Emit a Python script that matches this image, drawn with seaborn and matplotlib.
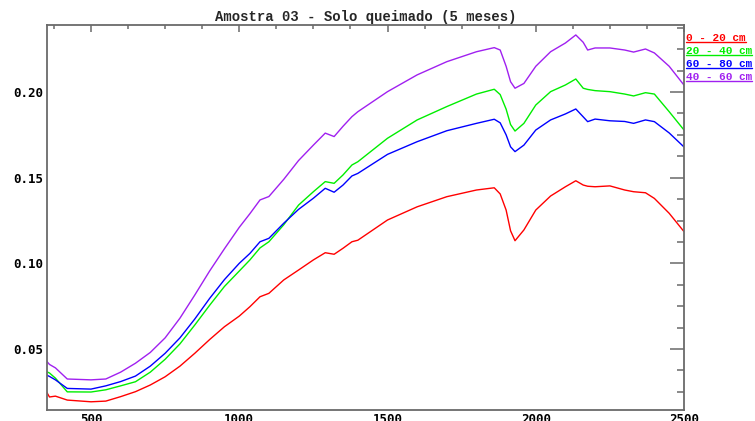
import numpy as np
import pandas as pd
import matplotlib
matplotlib.use('Agg')
import matplotlib.pyplot as plt
from matplotlib.lines import Line2D
from matplotlib.ticker import MultipleLocator, FormatStrFormatter
import seaborn as sns

# ==================== 数据 ====================
wavelength = [350, 360, 380, 420, 500, 550, 600, 650, 700, 750, 800, 850, 900, 950,
              1000, 1036, 1070, 1100, 1150, 1200, 1250, 1290, 1320, 1350, 1380, 1400,
              1500, 1600, 1700, 1800, 1860, 1880, 1900, 1915, 1930, 1960, 2000, 2050,
              2100, 2135, 2160, 2175, 2200, 2250, 2300, 2330, 2370, 2400, 2450, 2500]

prof_0_20 = [0.025, 0.022, 0.0225, 0.0202, 0.0192, 0.0196, 0.0222, 0.0251, 0.029,
             0.0338, 0.040, 0.0475, 0.0555, 0.063, 0.0692, 0.0747, 0.0805, 0.0825,
             0.0903, 0.0961, 0.102, 0.1062, 0.1053, 0.1088, 0.1126, 0.1135, 0.1253,
             0.133, 0.1389, 0.1428, 0.1441, 0.1405, 0.1311, 0.119, 0.1132, 0.1195,
             0.1311, 0.1393, 0.1447, 0.1482, 0.1457, 0.145, 0.1447, 0.1452, 0.1428,
             0.1418, 0.1412, 0.1379, 0.1292, 0.1185]

prof_20_40 = [0.0368, 0.036, 0.033, 0.025, 0.0249, 0.0262, 0.0285, 0.0309, 0.0365,
              0.044, 0.053, 0.064, 0.0755, 0.0865, 0.0955, 0.102, 0.109, 0.1126,
              0.1225, 0.134, 0.1418, 0.1477, 0.1467, 0.1516, 0.1574, 0.1593, 0.173,
              0.1837, 0.1915, 0.1988, 0.2016, 0.1985, 0.190, 0.181, 0.1772, 0.1817,
              0.1924, 0.2002, 0.2041, 0.2076, 0.2022, 0.2015, 0.2008, 0.2002, 0.1988,
              0.1977, 0.1996, 0.1988, 0.1885, 0.1778]

prof_60_80 = [0.0348, 0.034, 0.032, 0.027, 0.0266, 0.0285, 0.031, 0.0342, 0.040,
              0.0475, 0.0565, 0.0675, 0.0795, 0.0905, 0.100, 0.1058, 0.1126, 0.1146,
              0.1234, 0.1315, 0.138, 0.1438, 0.1415, 0.1457, 0.151, 0.1525, 0.1636,
              0.171, 0.1774, 0.1817, 0.1841, 0.182, 0.175, 0.168, 0.1652, 0.169,
              0.1778, 0.1837, 0.1872, 0.1901, 0.1855, 0.1827, 0.1842, 0.1832, 0.1828,
              0.1817, 0.1837, 0.1827, 0.1761, 0.1679]

prof_40_60 = [0.043, 0.041, 0.039, 0.0325, 0.032, 0.0325, 0.0365, 0.0417, 0.048,
              0.0565, 0.068, 0.0815, 0.0955, 0.1085, 0.121, 0.129, 0.137, 0.139,
              0.149, 0.160, 0.169, 0.176, 0.174, 0.180, 0.1856, 0.1885, 0.2002, 0.21,
              0.2177, 0.2235, 0.2259, 0.2245, 0.215, 0.206, 0.2022, 0.205, 0.215,
              0.2235, 0.2286, 0.2333, 0.229, 0.2245, 0.2257, 0.2257, 0.2245, 0.2233,
              0.2251, 0.2228, 0.215, 0.204]

labels = ['0 - 20 cm', '20 - 40 cm', '60 - 80 cm', '40 - 60 cm']
colors = ['#ff0000', '#00ee00', '#0000ff', '#a020f0']
series = [prof_0_20, prof_20_40, prof_60_80, prof_40_60]

df = pd.concat([
    pd.DataFrame({'wl': wavelength, 'refl': vals, 'prof': lab})
    for vals, lab in zip(series, labels)
])

# ==================== 绘图 ====================
sns.set_style('white')
plt.rcParams['font.family'] = ['DejaVu Sans Mono', 'DejaVu Sans']

fig = plt.figure(figsize=(7.55, 4.21), dpi=100)
ax = fig.add_axes([0.0616, 0.0261, 0.8444, 0.9145])

sns.lineplot(data=df, x='wl', y='refl', hue='prof', hue_order=labels,
             palette=dict(zip(labels, colors)), linewidth=1.0, legend=False,
             estimator=None, sort=False, ax=ax)

ax.set_xlim(350, 2500)
ax.set_ylim(0.0144, 0.2391)
ax.set_xlabel('')
ax.set_ylabel('')

ax.xaxis.set_major_locator(MultipleLocator(500))
ax.xaxis.set_minor_locator(MultipleLocator(125))
ax.yaxis.set_major_locator(MultipleLocator(0.05))
ax.yaxis.set_minor_locator(MultipleLocator(0.0125))
ax.yaxis.set_major_formatter(FormatStrFormatter('%.2f'))

axis_c = '#6a6a6a'
for sp in ax.spines.values():
    sp.set_color(axis_c)
    sp.set_linewidth(1.3)

ax.tick_params(axis='both', which='both', direction='in', color=axis_c,
               top=True, right=True, width=1.1)
ax.tick_params(axis='x', which='major', length=5, pad=2)
ax.tick_params(axis='x', which='minor', length=3)
ax.tick_params(axis='y', which='major', length=10, pad=2)
ax.tick_params(axis='y', which='minor', length=5)
for lab in ax.get_xticklabels() + ax.get_yticklabels():
    lab.set_fontsize(9)
    lab.set_fontweight('bold')
    lab.set_color('black')

ax.set_title('Amostra 03 - Solo queimado (5 meses)', family='Liberation Mono',
             fontsize=10, fontweight='bold', pad=3)

# 图例：右侧带下划线的文字
fig.canvas.draw()
renderer = fig.canvas.get_renderer()
y0 = 1 - 38 / 421
for i, (lab, c) in enumerate(zip(labels, colors)):
    yy = y0 - i * 13 / 421
    t = fig.text(686 / 755, yy, lab, color=c, family='Liberation Mono',
                 fontsize=8, fontweight='bold', va='center', ha='left')
    bb = t.get_window_extent(renderer).transformed(fig.transFigure.inverted())
    fig.add_artist(Line2D([bb.x0, bb.x1], [yy - 4 / 421] * 2, color=c,
                          linewidth=1.0, transform=fig.transFigure))

fig.savefig('out.png', dpi=100)
